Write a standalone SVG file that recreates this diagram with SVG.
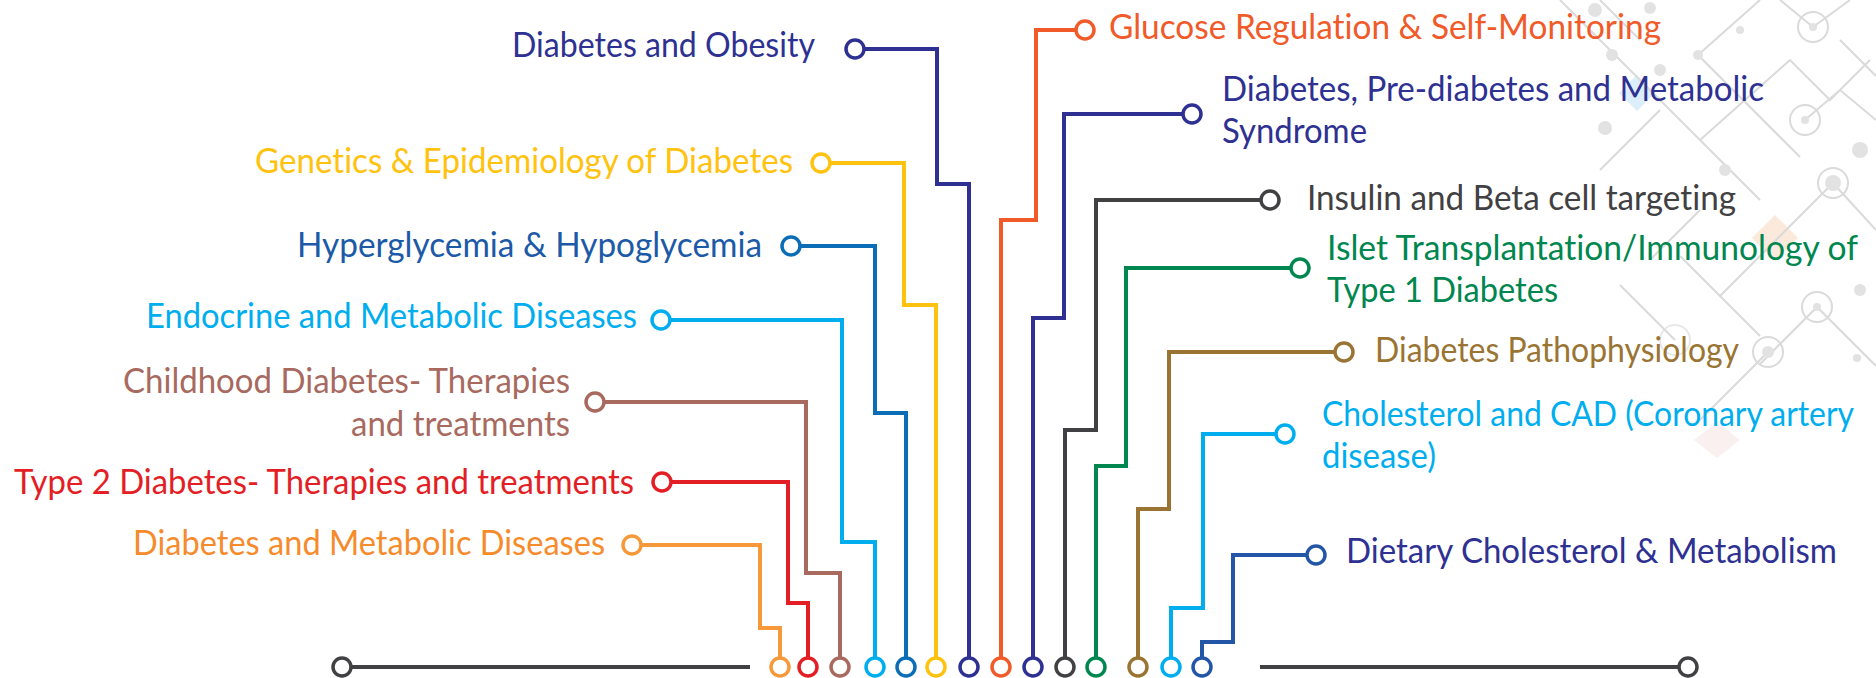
<svg xmlns="http://www.w3.org/2000/svg" width="1876" height="678" viewBox="0 0 1876 678">
<style>
text{font-family:Lato,"Open Sans","Noto Sans",sans-serif;font-size:34px;font-variant-ligatures:none}
.c{fill:none;stroke-width:4;stroke-linejoin:miter;stroke-linecap:butt}
.d{fill:#fff;stroke-width:3.5}
.bg{fill:none;stroke:#d4d4d4;stroke-width:2}
.bgd{fill:#dedede}
</style>
<rect width="1876" height="678" fill="#fff"/>
<g id="background" opacity="0.85">
<polygon points="1637,75 1655,93 1637,111 1619,93" fill="#d6ecf8"/>
<polygon points="1775,215 1798,238 1775,261 1752,238" fill="#fbe6d6"/>
<polygon points="1717,422 1740,440 1717,458 1694,440" fill="#fbeeee"/>
<path class="bg" d="M1560,0 L1760,200 M1600,0 L1640,40 M1698,55 L1760,0 M1698,55 L1800,157 M1700,140 L1790,60 L1830,100 L1870,60 M1813,27 L1850,0 M1813,27 L1780,0 M1805,120 L1840,90 L1876,120 M1833,183 L1876,230 M1833,183 L1720,296 L1680,256 M1817,307 L1876,366 M1817,307 L1760,364 M1768,352 L1700,420 M1675,340 L1620,285 M1720,296 L1760,336 M1600,170 L1660,110 M1650,260 L1700,210 M1840,40 L1876,76"/>
<circle class="bg" cx="1813" cy="27" r="15"/>
<circle class="bg" cx="1805" cy="120" r="15"/>
<circle class="bg" cx="1833" cy="183" r="15"/>
<circle class="bg" cx="1817" cy="307" r="15"/>
<circle class="bg" cx="1768" cy="352" r="15"/>
<circle class="bg" cx="1675" cy="340" r="15" opacity="0.6"/>
<circle class="bgd" cx="1813" cy="27" r="4"/>
<circle class="bgd" cx="1805" cy="120" r="4"/>
<circle class="bgd" cx="1833" cy="183" r="8"/>
<circle class="bgd" cx="1817" cy="307" r="4"/>
<circle class="bgd" cx="1768" cy="352" r="6"/>
<circle class="bgd" cx="1698" cy="55" r="5"/>
<circle class="bgd" cx="1595" cy="10" r="7"/>
<circle class="bgd" cx="1650" cy="8" r="6"/>
<circle class="bgd" cx="1612" cy="55" r="6"/>
<circle class="bgd" cx="1660" cy="70" r="6"/>
<circle class="bgd" cx="1605" cy="128" r="7"/>
<circle class="bgd" cx="1725" cy="170" r="6"/>
<circle class="bgd" cx="1860" cy="150" r="8"/>
<circle class="bgd" cx="1740" cy="30" r="4"/>
<circle class="bgd" cx="1860" cy="290" r="6"/>
<circle class="bgd" cx="1857" cy="358" r="4"/>
</g>
<g id="connectors">
<path class="c" stroke="#2E3192" d="M855,49 H937 V184 H969 V667"/>
<path class="c" stroke="#FFC20E" d="M821,163 H904 V305 H936 V667"/>
<path class="c" stroke="#0B6DB6" d="M791,246 H875 V413 H906 V667"/>
<path class="c" stroke="#00AEEF" d="M661,320 H842 V542 H875 V667"/>
<path class="c" stroke="#A86A5F" d="M595,402 H806 V573 H840 V667"/>
<path class="c" stroke="#E31E25" d="M662,482 H788 V603 H808 V667"/>
<path class="c" stroke="#F7993B" d="M632,545 H760 V628 H780 V667"/>
<path class="c" stroke="#F15A29" d="M1085,30 H1036 V220 H1001 V667"/>
<path class="c" stroke="#2E3192" d="M1192,114 H1064 V318 H1033 V667"/>
<path class="c" stroke="#414042" d="M1270,200 H1096 V430 H1065 V667"/>
<path class="c" stroke="#00864F" d="M1300,268 H1126 V466 H1096 V667"/>
<path class="c" stroke="#9A7433" d="M1344,352 H1169 V509 H1138 V667"/>
<path class="c" stroke="#00AEEF" d="M1285,434 H1203 V608 H1171 V667"/>
<path class="c" stroke="#2356A6" d="M1316,555 H1233 V642 H1202 V667"/>
<path class="c" stroke="#414042" stroke-width="4.5" d="M350,667 H750 M1260,667 H1680"/>
<circle class="d" stroke="#414042" cx="342" cy="667" r="9"/>
<circle class="d" stroke="#414042" cx="1688" cy="667" r="9"/>
</g>
<g id="n1"><circle class="d" stroke="#2E3192" cx="855" cy="49" r="9"/><circle class="d" stroke="#2E3192" cx="969" cy="667" r="9"/><text x="512" y="57" fill="#2E3192" textLength="303" lengthAdjust="spacingAndGlyphs">Diabetes and Obesity</text></g>
<g id="n2"><circle class="d" stroke="#FFC20E" cx="821" cy="163" r="9"/><circle class="d" stroke="#FFC20E" cx="936" cy="667" r="9"/><text x="255" y="173" fill="#FFC20E" textLength="538" lengthAdjust="spacingAndGlyphs">Genetics &amp; Epidemiology of Diabetes</text></g>
<g id="n3"><circle class="d" stroke="#0B6DB6" cx="791" cy="246" r="9"/><circle class="d" stroke="#0B6DB6" cx="906" cy="667" r="9"/><text x="297" y="257" fill="#1C5AA8" textLength="465" lengthAdjust="spacingAndGlyphs">Hyperglycemia &amp; Hypoglycemia</text></g>
<g id="n4"><circle class="d" stroke="#00AEEF" cx="661" cy="320" r="9"/><circle class="d" stroke="#00AEEF" cx="875" cy="667" r="9"/><text x="146" y="328" fill="#00AEEF" textLength="491" lengthAdjust="spacingAndGlyphs">Endocrine and Metabolic Diseases</text></g>
<g id="n5"><circle class="d" stroke="#A86A5F" cx="595" cy="402" r="9"/><circle class="d" stroke="#A86A5F" cx="840" cy="667" r="9"/><text x="123" y="393" fill="#A86A5F" textLength="447" lengthAdjust="spacingAndGlyphs">Childhood Diabetes- Therapies</text><text x="351" y="436" fill="#A86A5F" textLength="219" lengthAdjust="spacingAndGlyphs">and treatments</text></g>
<g id="n6"><circle class="d" stroke="#E31E25" cx="662" cy="482" r="9"/><circle class="d" stroke="#E31E25" cx="808" cy="667" r="9"/><text x="14" y="494" fill="#E31E25" textLength="620" lengthAdjust="spacingAndGlyphs">Type 2 Diabetes- Therapies and treatments</text></g>
<g id="n7"><circle class="d" stroke="#F7993B" cx="632" cy="545" r="9"/><circle class="d" stroke="#F7993B" cx="780" cy="667" r="9"/><text x="133" y="555" fill="#F68B2C" textLength="472" lengthAdjust="spacingAndGlyphs">Diabetes and Metabolic Diseases</text></g>
<g id="n8"><circle class="d" stroke="#F15A29" cx="1085" cy="30" r="9"/><circle class="d" stroke="#F15A29" cx="1001" cy="667" r="9"/><text x="1109" y="39" fill="#F15A29" textLength="552" lengthAdjust="spacingAndGlyphs">Glucose Regulation &amp; Self-Monitoring</text></g>
<g id="n9"><circle class="d" stroke="#2E3192" cx="1192" cy="114" r="9"/><circle class="d" stroke="#2E3192" cx="1033" cy="667" r="9"/><text x="1222" y="101" fill="#2E3192" textLength="542" lengthAdjust="spacingAndGlyphs">Diabetes, Pre-diabetes and Metabolic</text><text x="1222" y="143" fill="#2E3192" textLength="145" lengthAdjust="spacingAndGlyphs">Syndrome</text></g>
<g id="n10"><circle class="d" stroke="#414042" cx="1270" cy="200" r="9"/><circle class="d" stroke="#414042" cx="1065" cy="667" r="9"/><text x="1307" y="210" fill="#414042" textLength="429" lengthAdjust="spacingAndGlyphs">Insulin and Beta cell targeting</text></g>
<g id="n11"><circle class="d" stroke="#00864F" cx="1300" cy="268" r="9"/><circle class="d" stroke="#00864F" cx="1096" cy="667" r="9"/><text x="1327" y="260" fill="#00864F" textLength="531" lengthAdjust="spacingAndGlyphs">Islet Transplantation/Immunology of</text><text x="1327" y="302" fill="#00864F" textLength="231" lengthAdjust="spacingAndGlyphs">Type 1 Diabetes</text></g>
<g id="n12"><circle class="d" stroke="#9A7433" cx="1344" cy="352" r="9"/><circle class="d" stroke="#9A7433" cx="1138" cy="667" r="9"/><text x="1375" y="362" fill="#9A7433" textLength="364" lengthAdjust="spacingAndGlyphs">Diabetes Pathophysiology</text></g>
<g id="n13"><circle class="d" stroke="#00AEEF" cx="1285" cy="434" r="9"/><circle class="d" stroke="#00AEEF" cx="1171" cy="667" r="9"/><text x="1322" y="426" fill="#00AEEF" font-size="32" textLength="532" lengthAdjust="spacingAndGlyphs">Cholesterol and CAD (Coronary artery</text><text x="1322" y="468" fill="#00AEEF" textLength="114" lengthAdjust="spacingAndGlyphs">disease)</text></g>
<g id="n14"><circle class="d" stroke="#2356A6" cx="1316" cy="555" r="9"/><circle class="d" stroke="#2356A6" cx="1202" cy="667" r="9"/><text x="1346" y="563" fill="#2E3192" textLength="491" lengthAdjust="spacingAndGlyphs">Dietary Cholesterol &amp; Metabolism</text></g>
</svg>
